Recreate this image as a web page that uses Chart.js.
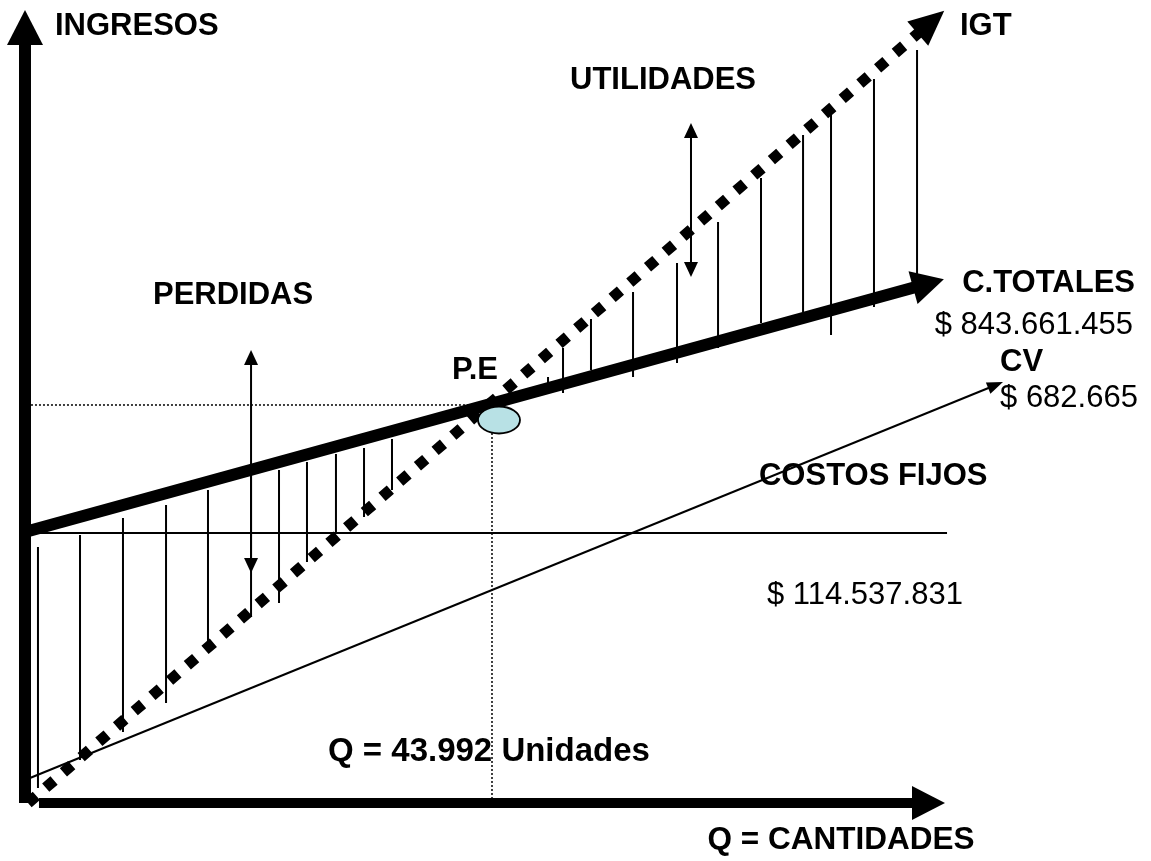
<!DOCTYPE html>
<html>
<head>
<meta charset="utf-8">
<title>Punto de equilibrio</title>
<script src="https://cdn.jsdelivr.net/npm/chart.js@4.4.1/dist/chart.umd.min.js"></script>
<style>
  html, body { margin: 0; padding: 0; background: #fff; }
  #wrap { width: 1151px; height: 861px; }
</style>
</head>
<body>
<div id="wrap"><canvas id="pe" width="1151" height="861"></canvas></div>
<script>
// esquema en unidades relativas: Q (0-100 sobre el eje) e ingresos/costos (0-100)
const ejeQ = [1.52, 96.52];
const ejeQValor = [0, 0];
const ejeIngQ = [0, 0];
const ejeIngValor = [0, 95.71];

const igtQ = [0.33, 97.12];
const igtValor = [0, 97.11];
const ctQ = [0, 96.63];
const ctValor = [34.17, 65.01];
const cfQ = [0, 100.22];
const cfValor = [34.05, 34.05];
const cvQ = [0.54, 104.79];
const cvValor = [3.15, 52.37];

const peQ = 50.76;
const peValor = 50.19;
const peMarcaQ = 51.52;
const peMarcaValor = 48.30;

// rayado de perdidas (entre C.TOTALES e IGT)
const perdQ = [1.41, 5.98, 10.65, 15.33, 19.89, 24.57, 27.61, 30.65, 33.80, 36.85, 39.89];
const perdArriba = [32.28, 33.80, 35.94, 37.58, 39.47, 41.99, 41.99, 43.00, 44.01, 44.77, 45.90];
const perdAbajo = [1.89, 5.42, 8.95, 12.61, 19.29, 23.46, 25.22, 30.39, 34.05, 36.07, 39.47];

// rayado de utilidades (entre IGT y C.TOTALES)
const utilQ = [56.85, 58.48, 61.52, 66.09, 70.87, 75.33, 80.00, 84.57, 87.61, 92.28, 96.96];
const utilArriba = [53.72, 57.38, 61.03, 64.44, 68.10, 73.27, 78.81, 84.24, 87.77, 91.30, 94.96];
const utilAbajo = [52.46, 51.70, 54.60, 53.72, 55.49, 57.38, 60.53, 61.92, 59.02, 62.55, 65.32];

const flechaPerdQ = 24.57;
const flechaPerdValor = [55.36, 30.77];
const flechaUtilQ = 72.39;
const flechaUtilValor = [83.98, 68.10];

const etiquetas = [
  { t: 'INGRESOS', q: 3.26, v: 97.98, b: true, a: 'left' },
  { t: 'IGT', q: 101.63, v: 97.98, b: true, a: 'left' },
  { t: 'UTILIDADES', q: 69.35, v: 91.17, b: true, a: 'center' },
  { t: 'PERDIDAS', q: 13.91, v: 64.06, b: true, a: 'left' },
  { t: 'P.E', q: 51.41, v: 54.60, b: true, a: 'right' },
  { t: 'C.TOTALES', q: 120.65, v: 65.57, b: true, a: 'right' },
  { t: '$ 843.661.455', q: 120.43, v: 60.28, b: false, a: 'right' },
  { t: 'CV', q: 105.98, v: 55.61, b: true, a: 'left' },
  { t: '$ 682.665', q: 105.98, v: 51.07, b: false, a: 'left' },
  { t: 'COSTOS FIJOS', q: 79.78, v: 41.24, b: true, a: 'left' },
  { t: '$ 114.537.831', q: 80.65, v: 26.23, b: false, a: 'left' },
  { t: 'Q = 43.992 Unidades', q: 50.43, v: 6.43, b: true, a: 'center', s: 33 },
  { t: 'Q = CANTIDADES', q: 88.70, v: -4.67, b: true, a: 'center', s: 31.5 }
];

const FUENTE = '"Liberation Sans", Arial, Helvetica, sans-serif';

function pares(qs, vs) {
  return qs.map((q, i) => ({ x: q, y: vs[i] }));
}

function rayado(qs, arriba, abajo) {
  const out = [];
  qs.forEach((q, i) => {
    out.push({ x: q, y: arriba[i] }, { x: q, y: abajo[i] }, { x: q, y: null });
  });
  return out;
}

function linea(data, ancho, extra) {
  return Object.assign({
    data: data,
    showLine: true,
    borderColor: '#000',
    backgroundColor: '#000',
    borderWidth: ancho,
    borderCapStyle: 'butt',
    pointRadius: 0,
    tension: 0,
    fill: false,
    spanGaps: false,
    clip: false
  }, extra || {});
}

// marca elíptica del punto de equilibrio
function marcaElipse() {
  const c = document.createElement('canvas');
  c.width = 46; c.height = 30;
  const g = c.getContext('2d');
  g.beginPath();
  g.ellipse(23, 15, 21, 13.5, 0, 0, Math.PI * 2);
  g.fillStyle = '#b8e1e5';
  g.fill();
  g.lineWidth = 1.8;
  g.strokeStyle = '#000';
  g.stroke();
  return c;
}

function punta(ctx, desde, hasta, largo, medio) {
  const dx = hasta.x - desde.x, dy = hasta.y - desde.y;
  const d = Math.hypot(dx, dy);
  const ux = dx / d, uy = dy / d;
  ctx.beginPath();
  ctx.moveTo(hasta.x + ux * largo, hasta.y + uy * largo);
  ctx.lineTo(hasta.x - uy * medio - ux, hasta.y + ux * medio - uy);
  ctx.lineTo(hasta.x + uy * medio - ux, hasta.y - ux * medio - uy);
  ctx.closePath();
  ctx.fill();
}

const flechas = {
  id: 'flechas',
  afterDatasetsDraw(chart) {
    const ctx = chart.ctx;
    ctx.save();
    ctx.fillStyle = '#000';
    chart.data.datasets.forEach((ds, i) => {
      if (!ds.flecha) return;
      const pts = chart.getDatasetMeta(i).data;
      const n = pts.length;
      const f = ds.flecha;
      if (f.fin) punta(ctx, pts[n - 2], pts[n - 1], f.largo, f.medio);
      if (f.inicio) punta(ctx, pts[1], pts[0], f.largo, f.medio);
    });
    ctx.restore();
  }
};

const textos = {
  id: 'textos',
  afterDraw(chart) {
    const ctx = chart.ctx;
    const sx = chart.scales.x, sy = chart.scales.y;
    ctx.save();
    ctx.fillStyle = '#000';
    ctx.textBaseline = 'middle';
    etiquetas.forEach(e => {
      ctx.font = (e.b ? 'bold ' : '') + (e.s || 31) + 'px ' + FUENTE;
      ctx.textAlign = e.a;
      ctx.fillText(e.t, sx.getPixelForValue(e.q), sy.getPixelForValue(e.v));
    });
    ctx.restore();
  }
};

const datasets = [
  linea([{ x: peMarcaQ, y: peMarcaValor }], 0, {
    showLine: false, pointStyle: marcaElipse(), pointRadius: 12, order: 0
  }),
  linea(pares(igtQ, igtValor), 11, {
    borderDash: [11, 12.4], order: 1, flecha: { fin: true, largo: 34, medio: 16 }
  }),
  linea(pares(ctQ, ctValor), 12, { order: 2, flecha: { fin: true, largo: 31, medio: 17 } }),
  linea(pares(ejeIngQ, ejeIngValor), 12, { order: 3, flecha: { fin: true, largo: 34, medio: 18 } }),
  linea(pares(ejeQ, ejeQValor), 10, { order: 3, flecha: { fin: true, largo: 32, medio: 17 } }),
  linea(pares(cfQ, cfValor), 2, { order: 4 }),
  linea(pares(cvQ, cvValor), 2, { order: 4, flecha: { fin: true, largo: 15, medio: 6 } }),
  linea(rayado(perdQ, perdArriba, perdAbajo), 2, { order: 5 }),
  linea(rayado(utilQ, utilArriba, utilAbajo), 2, { order: 5 }),
  linea(pares([flechaPerdQ, flechaPerdQ], flechaPerdValor), 2, {
    order: 4, flecha: { inicio: true, fin: true, largo: 14, medio: 7 }
  }),
  linea(pares([flechaUtilQ, flechaUtilQ], flechaUtilValor), 2, {
    order: 4, flecha: { inicio: true, fin: true, largo: 14, medio: 7 }
  }),
  linea(pares([0.65, peQ], [peValor, peValor]), 1.5, { borderDash: [2, 2], order: 6 }),
  linea(pares([peQ, peQ], [peValor, 0]), 1.5, { borderDash: [2, 2], order: 6 })
];

new Chart(document.getElementById('pe'), {
  type: 'scatter',
  data: { datasets: datasets },
  options: {
    responsive: false,
    animation: false,
    devicePixelRatio: 1,
    events: [],
    layout: { padding: 0, autoPadding: false },
    plugins: { legend: { display: false }, tooltip: { enabled: false } },
    scales: {
      x: { type: 'linear', display: false, min: -2.717, max: 122.39 },
      y: { type: 'linear', display: false, min: -7.314, max: 101.26 }
    }
  },
  plugins: [flechas, textos]
});
</script>
</body>
</html>
